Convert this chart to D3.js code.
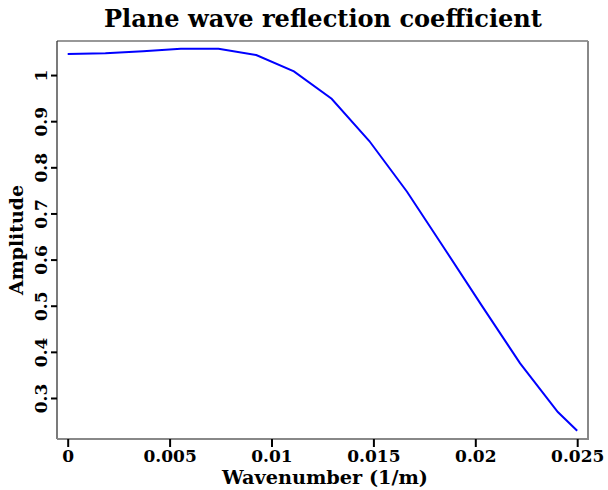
<!DOCTYPE html>
<html><head><meta charset="utf-8">
<script src="https://cdn.jsdelivr.net/npm/d3@7"></script>
<style>body{margin:0;background:#fff}</style>
</head><body>
<script>
const wavenumber = [0, 0.00185, 0.0037, 0.00555, 0.0074, 0.00925, 0.0111, 0.01295, 0.0148, 0.01665, 0.0185, 0.02035, 0.0222, 0.02405, 0.025];
const amplitude  = [1.0456, 1.047, 1.0514, 1.0568, 1.057, 1.0434, 1.008, 0.9486, 0.857, 0.747, 0.623, 0.498, 0.375, 0.2696, 0.229];
const xTicks = [0, 0.005, 0.01, 0.015, 0.02, 0.025];
const yTicks = [0.3, 0.4, 0.5, 0.6, 0.7, 0.8, 0.9, 1];
const title = "Plane wave reflection coefficient";
const xLabel = "Wavenumber (1/m)";
const yLabel = "Amplitude";

const W = 608, H = 490;
const L = 57, R = 588, T = 41, B = 439;
const font = "'DejaVu Serif',serif";

const svg = d3.select("body").append("svg").attr("width", W).attr("height", H);

const x = d3.scaleLinear().domain([-0.000525, 0.02553]).range([L, R]);
const y = d3.scaleLinear().domain([0.2111, 1.0738]).range([B, T]);

function fit(sel, target) {
  sel.each(function () {
    const fs = parseFloat(this.getAttribute("font-size"));
    const w = this.getComputedTextLength();
    if (w > 0) this.setAttribute("font-size", (fs * target / w).toFixed(2));
  });
}

// frame
svg.append("line").attr("x1", L).attr("x2", L).attr("y1", T).attr("y2", B).attr("stroke", "#222").attr("stroke-width", 1.2);
svg.append("line").attr("x1", L).attr("x2", R).attr("y1", T).attr("y2", T).attr("stroke", "#333").attr("stroke-width", 1.2);
svg.append("line").attr("x1", R).attr("x2", R).attr("y1", T).attr("y2", B + 1).attr("stroke", "#888").attr("stroke-width", 2);
svg.append("line").attr("x1", L).attr("x2", R + 1).attr("y1", B).attr("y2", B).attr("stroke", "#888").attr("stroke-width", 2);

// x axis
const xAxis = d3.axisBottom(x).tickValues(xTicks).tickSize(8).tickPadding(3)
  .tickFormat(d => d === 0 ? "0" : String(+d.toFixed(3)));
const gx = svg.append("g").attr("transform", `translate(0,${B})`).call(xAxis);
gx.select(".domain").remove();
gx.selectAll(".tick line").attr("stroke", "#000").attr("stroke-width", 2);
gx.selectAll(".tick text").attr("font-family", font).attr("font-weight", "bold").attr("font-size", 17).attr("fill", "#000");

// y axis
const yAxis = d3.axisLeft(y).tickValues(yTicks).tickSize(6).tickFormat(d => String(d));
const gy = svg.append("g").attr("transform", `translate(${L},0)`).call(yAxis);
gy.select(".domain").remove();
gy.selectAll(".tick line").attr("stroke", "#000").attr("stroke-width", 2);
gy.selectAll(".tick text")
  .attr("font-family", font).attr("font-weight", "bold").attr("font-size", 17).attr("fill", "#000")
  .attr("x", null).attr("dy", null)
  .attr("text-anchor", "middle")
  .attr("transform", "translate(-10,0) rotate(-90)");

// line
svg.append("path")
  .datum(wavenumber.map((k, i) => [k, amplitude[i]]))
  .attr("fill", "none").attr("stroke", "#0000ff").attr("stroke-width", 2)
  .attr("d", d3.line().x(d => x(d[0])).y(d => y(d[1])));

// texts
const tt = svg.append("text").attr("x", 323).attr("y", 27).attr("text-anchor", "middle")
  .attr("font-family", font).attr("font-weight", "bold").attr("font-size", 22).text(title);
fit(tt, 438);
const xl = svg.append("text").attr("x", 325).attr("y", 484).attr("text-anchor", "middle")
  .attr("font-family", font).attr("font-weight", "bold").attr("font-size", 20).text(xLabel);
fit(xl, 206);
const yl = svg.append("text").attr("transform", `translate(23,${(T + B) / 2}) rotate(-90)`).attr("text-anchor", "middle")
  .attr("font-family", font).attr("font-weight", "bold").attr("font-size", 19).text(yLabel);
fit(yl, 110);
</script>
</body></html>
